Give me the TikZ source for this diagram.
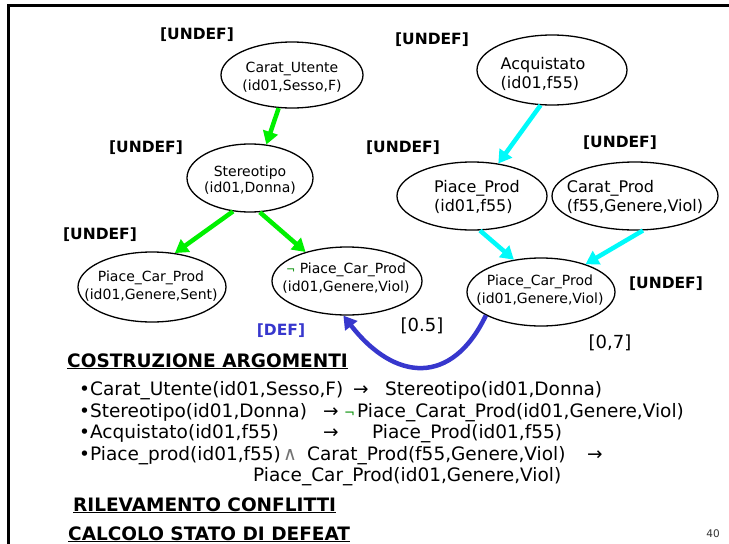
\documentclass[tikz,border=0pt]{standalone}
\usepackage{fontspec}
\setmainfont{DejaVu Sans}
\usetikzlibrary{arrows.meta,shapes.geometric}
\definecolor{ggreen}{RGB}{0,240,0}
\definecolor{ccyan}{RGB}{0,250,250}
\definecolor{bblue}{RGB}{55,55,205}
\definecolor{ngreen}{RGB}{0,140,0}
\begin{document}
\begin{tikzpicture}[x=1pt,y=-1pt,
  ell/.style={draw, ellipse, line width=1.3pt, inner sep=0pt},
  txt/.style={align=center, inner sep=0pt, font=\fontsize{14}{18}\selectfont},
  txtl/.style={align=left, inner sep=0pt, font=\fontsize{16}{19.5}\selectfont},
  undef/.style={inner sep=0pt, font=\fontsize{15.5}{18}\selectfont\bfseries},
  wt/.style={inner sep=0pt, font=\fontsize{18}{21}\selectfont},
  bul/.style={anchor=base west, inner sep=0pt, font=\fontsize{18.5}{21}\selectfont},
  head/.style={anchor=base west, inner sep=0pt, font=\fontsize{18.5}{21}\selectfont\bfseries},
  garrow/.style={ggreen, line width=4.5pt, -{Triangle[length=13pt,width=15pt]}},
  carrow/.style={ccyan, line width=4.5pt, -{Triangle[length=13pt,width=15pt]}},
  barrow/.style={bblue, line width=4.5pt, -{Triangle[length=13pt,width=15pt]}}]
\useasboundingbox (0,0) rectangle (729,544);
% frame
\draw[line width=3pt] (8,544) -- (8,5) -- (729,5);

% ellipses
\node[ell, minimum width=142pt, minimum height=66pt] (cu) at (292,75) {};
\node[ell, minimum width=126pt, minimum height=68pt] (st) at (250,178) {};
\node[ell, minimum width=148pt, minimum height=70pt] (lp) at (152,287) {};
\node[ell, minimum width=150pt, minimum height=68pt] (mp) at (347,281) {};
\node[ell, minimum width=150pt, minimum height=70pt] (aq) at (552,70) {};
\node[ell, minimum width=150pt, minimum height=68pt] (pp) at (472,196) {};
\node[ell, minimum width=166pt, minimum height=68pt] (cp) at (635,196) {};
\node[ell, minimum width=148pt, minimum height=68pt] (rp) at (541,292) {};

% ellipse texts
\node[txt] (tcu) at (292,77) {Carat\_Utente\\(id01,Sesso,F)};
\node[txt, font=\fontsize{14}{16.5}\selectfont] (tst) at (250,180) {Stereotipo\\(id01,Donna)};
\node[txt] (tlp) at (151,286) {Piace\_Car\_Prod\\(id01,Genere,Sent)};
\node[txt] (tmp) at (346,278) {{\color{ngreen}\fontsize{11}{12}\selectfont ¬} Piace\_Car\_Prod\\(id01,Genere,Viol)};
\node[txtl] (taq) at (543,74) {Acquistato\\(id01,f55)};
\node[txtl] (tpp) at (477,197) {Piace\_Prod\\(id01,f55)};
\node[txtl] (tcp) at (635,197) {Carat\_Prod\\(f55,Genere,Viol)};
\node[txt, font=\fontsize{14}{17.5}\selectfont] (trp) at (540,290) {Piace\_Car\_Prod\\(id01,Genere,Viol)};

% labels
\node[undef] (u1) at (197,35) {[UNDEF]};
\node[undef] (u2) at (432,40) {[UNDEF]};
\node[undef] (u3) at (146,148) {[UNDEF]};
\node[undef] (u4) at (100,235) {[UNDEF]};
\node[undef] (u5) at (403,148) {[UNDEF]};
\node[undef] (u6) at (620,143) {[UNDEF]};
\node[undef] (u7) at (666,284) {[UNDEF]};
\node[undef, text=bblue] (d1) at (281,331) {[DEF]};
\node[wt] (w1) at (422,326) {[0.5]};
\node[wt] (w2) at (610,343) {[0,7]};

% arrows
\draw[garrow] (cu.248) -- (st.64);
\draw[garrow] (st.243) -- (lp.56);
\draw[garrow] (st.286) -- (mp.145);
\draw[carrow] (aq.252) -- (pp.51);
\draw[carrow] (pp.283) -- (rp.130);
\draw[carrow] (cp.283) -- (rp.32);
\draw[barrow] (rp.203) .. controls (452,386) and (395,382) .. (mp.264);

% text section
\node[head] (h1) at (67,367) {\underline{COSTRUZIONE ARGOMENTI}};
\node[bul] (a1) at (79,395) {•Carat\_Utente(id01,Sesso,F)};
\node[bul] (a1r) at (353,395) {→};
\node[bul] (a1b) at (385,395) {Stereotipo(id01,Donna)};
\node[bul] (a2) at (79,417) {•Stereotipo(id01,Donna)};
\node[bul] (a2r) at (323,417) {→};
\node[bul, text=ngreen, font=\fontsize{13}{14}\selectfont] (a2n) at (344,417) {¬};
\node[bul] (a2b) at (357,417) {Piace\_Carat\_Prod(id01,Genere,Viol)};
\node[bul] (a3) at (79,438) {•Acquistato(id01,f55)};
\node[bul] (a3r) at (323,438) {→};
\node[bul] (a3b) at (372,438) {Piace\_Prod(id01,f55)};
\node[bul] (a4) at (79,460) {•Piace\_prod(id01,f55)};
\node[bul, text=black!55, font=\fontsize{19}{20}\selectfont] (a4w) at (283,460) {∧};
\node[bul] (a4b) at (307,460) {Carat\_Prod(f55,Genere,Viol)};
\node[bul] (a4r) at (587,460) {→};
\node[bul] (a5) at (253,481) {Piace\_Car\_Prod(id01,Genere,Viol)};
\node[head] (h2) at (73,511) {\underline{RILEVAMENTO CONFLITTI}};
\node[head] (h3) at (68,540) {\underline{CALCOLO STATO DI DEFEAT}};
\node[inner sep=0pt, font=\fontsize{10.5}{12}\selectfont, text=black!80] (pg) at (713,534) {40};
\end{tikzpicture}
\end{document}
